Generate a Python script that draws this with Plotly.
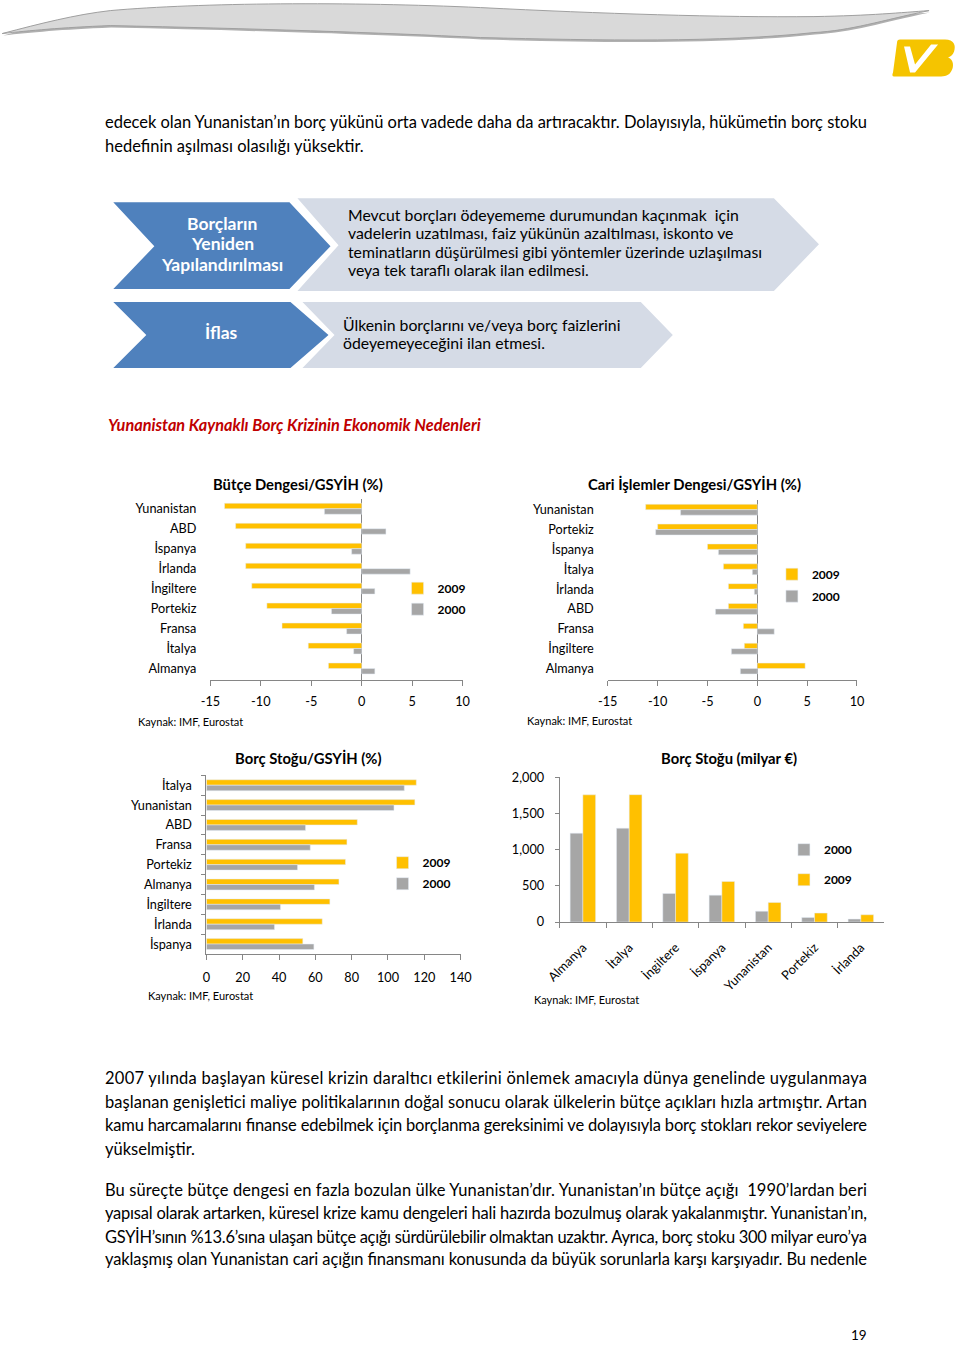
import json
import plotly.graph_objects as go

# ---------------- data ----------------
budget_countries = ["Yunanistan", "ABD", "İspanya", "İrlanda", "İngiltere", "Portekiz", "Fransa", "İtalya", "Almanya"]
budget_2009 = [-13.6, -12.5, -11.5, -11.5, -10.9, -9.4, -7.9, -5.3, -3.3]
budget_2000 = [-3.7, 2.4, -1.0, 4.8, 1.3, -3.0, -1.5, -0.8, 1.3]

ca_countries = ["Yunanistan", "Portekiz", "İspanya", "İtalya", "İrlanda", "ABD", "Fransa", "İngiltere", "Almanya"]
ca_2009 = [-11.2, -10.0, -5.0, -3.4, -2.9, -2.9, -1.4, -1.3, 4.8]
ca_2000 = [-7.7, -10.2, -3.9, -0.5, -0.3, -4.2, 1.7, -2.6, -1.7]

debt_countries = ["İtalya", "Yunanistan", "ABD", "Fransa", "Portekiz", "Almanya", "İngiltere", "İrlanda", "İspanya"]
debt_2009 = [115.6, 114.8, 83.1, 77.4, 76.6, 73.0, 68.0, 63.8, 53.1]
debt_2000 = [109.0, 103.3, 54.6, 57.2, 50.2, 59.5, 40.8, 37.5, 59.2]

stock_countries = ["Almanya", "İtalya", "İngiltere", "İspanya", "Yunanistan", "Portekiz", "İrlanda"]
stock_2000 = [1228, 1297, 395, 372, 150, 64, 41]
stock_2009 = [1758, 1760, 952, 561, 271, 124, 101]

series_names = ["2009", "2000"]
balance_ticks = [-15, -10, -5, 0, 5, 10]
balance_ticklabels = ["-15", "-10", "-5", "0", "5", "10"]

# ---------------- helpers ----------------
W, H = 960, 1347
FONT = "Lato"
YEL = "#FFC000"
GRY = "#A6A6A6"
AX = "#868686"

# positions below are given in page pixels of the target picture
SX, OX = 0.972, 14.8
SY, OY = 0.9898, 7.4


def px(x):
    return ((x - OX) / SX) / W


def py(y):
    return 1 - ((y - OY) / SY) / H


fig = go.Figure()

fig.add_trace(go.Bar(y=budget_countries, x=budget_2009, orientation="h", name=series_names[0],
                     legendgroup="a", marker_color=YEL, xaxis="x", yaxis="y", legend="legend"))
fig.add_trace(go.Bar(y=budget_countries, x=budget_2000, orientation="h", name=series_names[1],
                     legendgroup="b", marker_color=GRY, xaxis="x", yaxis="y", legend="legend"))
fig.add_trace(go.Bar(y=ca_countries, x=ca_2009, orientation="h", name=series_names[0],
                     legendgroup="a", marker_color=YEL, xaxis="x2", yaxis="y2", legend="legend2"))
fig.add_trace(go.Bar(y=ca_countries, x=ca_2000, orientation="h", name=series_names[1],
                     legendgroup="b", marker_color=GRY, xaxis="x2", yaxis="y2", legend="legend2"))
fig.add_trace(go.Bar(y=debt_countries, x=debt_2009, orientation="h", name=series_names[0],
                     legendgroup="a", marker_color=YEL, xaxis="x3", yaxis="y3", legend="legend3"))
fig.add_trace(go.Bar(y=debt_countries, x=debt_2000, orientation="h", name=series_names[1],
                     legendgroup="b", marker_color=GRY, xaxis="x3", yaxis="y3", legend="legend3"))
fig.add_trace(go.Bar(x=stock_countries, y=stock_2000, name=series_names[1], legendgroup="a",
                     marker_color=GRY, xaxis="x4", yaxis="y4", legend="legend4"))
fig.add_trace(go.Bar(x=stock_countries, y=stock_2009, name=series_names[0], legendgroup="b",
                     marker_color=YEL, xaxis="x4", yaxis="y4", legend="legend4"))

tickfont = dict(family=FONT, size=12.7, color="#000")


def hx(standoff):
    return dict(showline=True, linecolor=AX, linewidth=1, ticks="outside", ticklen=5,
                tickcolor=AX, showgrid=False, tickfont=tickfont, ticklabelstandoff=standoff)


layout = dict(
    width=W, height=H, margin=dict(l=0, r=0, t=0, b=0), autosize=False,
    paper_bgcolor="white", plot_bgcolor="rgba(0,0,0,0)",
    barmode="group", bargap=0.45, bargroupgap=0,
    font=dict(family=FONT, color="#000"),
    xaxis=dict(domain=[px(210), px(462)], range=[-15, 10], tickvals=balance_ticks,
               ticktext=balance_ticklabels,
               zeroline=True, zerolinecolor=AX, zerolinewidth=1, anchor="y", **hx(4)),
    yaxis=dict(domain=[py(680), py(498)], type="category", categoryorder="array",
               categoryarray=budget_countries, range=[8.6, -0.5], showline=False, ticks="",
               showgrid=False, tickfont=tickfont, ticklabelstandoff=13, anchor="x"),
    xaxis2=dict(domain=[px(607), px(856)], range=[-15, 10], tickvals=balance_ticks,
                ticktext=balance_ticklabels,
                zeroline=True, zerolinecolor=AX, zerolinewidth=1, anchor="y2", **hx(4)),
    yaxis2=dict(domain=[py(680), py(499)], type="category", categoryorder="array",
                categoryarray=ca_countries, range=[8.6, -0.5], showline=False, ticks="",
                showgrid=False, tickfont=tickfont, ticklabelstandoff=13, anchor="x2"),
    xaxis3=dict(domain=[px(206), px(460)], range=[0, 140], dtick=20, zeroline=False,
                anchor="y3", **hx(7)),
    yaxis3=dict(domain=[py(954), py(775)], type="category", categoryorder="array",
                categoryarray=debt_countries, range=[8.5, -0.5], showline=True, linecolor=AX,
                ticks="outside", ticklen=4, tickcolor=AX, tickson="boundaries",
                showgrid=False, tickfont=tickfont, ticklabelstandoff=11, anchor="x3"),
    xaxis4=dict(domain=[px(559), px(883)], type="category", categoryorder="array",
                categoryarray=stock_countries, showline=True, linecolor=AX, ticks="outside",
                ticklen=5, tickcolor=AX, tickson="boundaries", tickangle=-45,
                showgrid=False, tickfont=tickfont, ticklabelstandoff=12, anchor="y4"),
    yaxis4=dict(domain=[py(922), py(777)], range=[0, 2000], dtick=500, tickformat=",",
                showline=True, linecolor=AX, ticks="outside", ticklen=4, tickcolor=AX,
                showgrid=False, zeroline=False, tickfont=tickfont, ticklabelstandoff=8,
                anchor="x4"),
)

legfont = dict(family=FONT, size=12, color="#000", weight="bold")
for key, (lx, ly), gap in [("legend", (397, 573), 2), ("legend2", (771, 559), 3),
                           ("legend3", (382, 848), 2), ("legend4", (783, 835), 11)]:
    layout[key] = dict(x=px(lx), y=py(ly), xanchor="left", yanchor="top", bgcolor="rgba(0,0,0,0)",
                       font=legfont, traceorder="grouped", tracegroupgap=gap, itemwidth=30)

fig.update_layout(**layout)

ann = []
justified = []


def text(x, y, s, size=16.5, color="#000", anchor="left", bold=False, italic=False, justify=False):
    style = "italic" if italic else "normal"
    if justify:
        justified.append(len(ann))
    ann.append(dict(x=px(x), y=py(y), xref="paper", yref="paper", text=s, showarrow=False,
                    xanchor=anchor, yanchor="middle",
                    font=dict(family=FONT, size=size, color=color,
                              weight="bold" if bold else "normal", style=style)))


text(102.5, 121, "edecek olan Yunanistan’ın borç yükünü orta vadede daha da artıracaktır. Dolayısıyla, hükümetin borç stoku",
     justify=True)
text(102.5, 145, "hedefinin aşılması olasılığı yüksektir.")

for i, s in enumerate(["Borçların", "Yeniden", "Yapılandırılması"]):
    text(222, 222 + i * 20.5, s, size=17.5, color="white", anchor="center", bold=True)
text(221, 331.5, "İflas", size=17.5, color="white", anchor="center", bold=True)
for i, s in enumerate(["Mevcut borçları ödeyememe durumundan kaçınmak  için",
                       "vadelerin uzatılması, faiz yükünün azaltılması, iskonto ve",
                       "teminatların düşürülmesi gibi yöntemler üzerinde uzlaşılması",
                       "veya tek taraflı olarak ilan edilmesi."]):
    text(345, 213 + i * 18.5, s, size=15.8)
text(340, 323.5, "Ülkenin borçlarını ve/veya borç faizlerini", size=15.8)
text(340, 341.5, "ödeyemeyeceğini ilan etmesi.", size=15.8)

text(105.5, 423.5, "Yunanistan Kaynaklı Borç Krizinin Ekonomik Nedenleri", size=16.3, color="#C00000",
     bold=True, italic=True)

text(298, 483, "Bütçe Dengesi/GSYİH (%)", size=14.8, anchor="center", bold=True)
text(694, 483, "Cari İşlemler Dengesi/GSYİH (%)", size=14.8, anchor="center", bold=True)
text(308, 758, "Borç Stoğu/GSYİH (%)", size=14.8, anchor="center", bold=True)
text(728, 758, "Borç Stoğu (milyar €)", size=14.8, anchor="center", bold=True)

for (sx, sy) in [(135.5, 721), (524.5, 720), (145.5, 996), (531.5, 1000)]:
    text(sx, sy, "Kaynak: IMF, Eurostat", size=11)

para = [
    (1078, "2007 yılında başlayan küresel krizin daraltıcı etkilerini önlemek amacıyla dünya genelinde uygulanmaya", True),
    (1102, "başlanan genişletici maliye politikalarının doğal sonucu olarak ülkelerin bütçe açıkları hızla artmıştır. Artan", True),
    (1125, "kamu harcamalarını finanse edebilmek için borçlanma gereksinimi ve dolayısıyla borç stokları rekor seviyelere", True),
    (1149, "yükselmiştir.", False),
    (1190, "Bu süreçte bütçe dengesi en fazla bozulan ülke Yunanistan’dır. Yunanistan’ın bütçe açığı  1990’lardan beri", True),
    (1213, "yapısal olarak artarken, küresel krize kamu dengeleri hali hazırda bozulmuş olarak yakalanmıştır. Yunanistan’ın,", True),
    (1237, "GSYİH’sının %13.6’sına ulaşan bütçe açığı sürdürülebilir olmaktan uzaktır. Ayrıca, borç stoku 300 milyar euro’ya", True),
    (1260, "yaklaşmış olan Yunanistan cari açığın finansmanı konusunda da büyük sorunlarla karşı karşıyadır. Bu nedenle", True),
]
for y, s, j in para:
    text(102.5, y, s, justify=j)

text(858, 1336, "19", size=13.5, anchor="center")

fig.update_layout(annotations=ann)

shapes = []


def path(d, fill, line="rgba(0,0,0,0)", lw=0, layer="below"):
    shapes.append(dict(type="path", xref="paper", yref="paper", path=d, fillcolor=fill,
                       line=dict(color=line, width=lw), layer=layer))


def poly(points, fill, line="rgba(0,0,0,0)", lw=0):
    d = "M " + " L ".join(f"{px(x):.5f},{py(y):.5f}" for x, y in points) + " Z"
    path(d, fill, line, lw)


def curve(cmds, fill, line, lw):
    out = []
    for op, pts in cmds:
        out.append(op + " " + " ".join(f"{px(x):.5f},{py(y):.5f}" for x, y in pts))
    path(" ".join(out) + " Z", fill, line, lw)


ribbon = [("M", [(2, 32)]), ("C", [(40, 22), (75, 13), (110, 9)]), ("C", [(200, 1), (350, 0), (480, 6)]),
          ("C", [(600, 12), (720, 16), (813, 15)]), ("C", [(870, 14), (900, 11), (928, 9)]),
          ("C", [(880, 19), (850, 29), (813, 31)]), ("C", [(720, 41), (600, 39), (480, 36)]),
          ("C", [(380, 31), (250, 27), (110, 24)]), ("C", [(60, 26), (30, 29), (2, 32)])]
curve([(op, [(x + 1, y + 2) for x, y in pts]) for op, pts in ribbon], "#B0B0B0", "rgba(0,0,0,0)", 0)
curve(ribbon, "#D9D9D9", "#A0A0A0", 1)

curve([("M", [(899, 38)]), ("L", [(944, 38)]), ("C", [(953, 38), (955, 44), (953, 50)]),
       ("C", [(952, 53), (950, 55), (947, 56)]), ("C", [(953, 58), (953, 66), (950, 70)]),
       ("C", [(948, 74), (944, 75), (938, 75)]), ("L", [(893, 75)]), ("C", [(891, 75), (891, 73), (892, 71)]),
       ("L", [(896, 41)]), ("C", [(896, 39), (897, 38), (899, 38)])], "#F5C400", "rgba(0,0,0,0)", 0)
poly([(903, 45), (909, 45), (914, 63), (930, 43), (937, 43), (914, 71), (909, 71)], "white")

BLUE = "#4F81BD"
LIGHT = "#D5DBE6"
poly([(297, 197), (773, 197), (818, 243), (773, 290), (297, 290), (338, 244)], LIGHT)
poly([(113, 201), (289, 201), (330, 245), (289, 288), (113, 288), (154, 245)], BLUE)
poly([(302, 301), (640, 301), (672, 334), (640, 367), (302, 367), (334, 334)], LIGHT)
poly([(113, 301), (290, 301), (328, 334), (290, 367), (113, 367), (146, 334)], BLUE)

fig.update_layout(shapes=shapes)

# justified body lines: stretch to the text block width (104 -> 866 on the page)
target_len = 866 - 104
js = (
    "var s=document.createElement('style');"
    "s.textContent='html,body{margin:0!important;padding:0!important;overflow:hidden!important;}';"
    "document.head.appendChild(s);"
    "var gd=document.getElementById('{plot_id}');"
    "var idx=" + json.dumps(justified) + ";"
    "idx.forEach(function(i){"
    " var t=gd.querySelector('g.annotation[data-index=\"'+i+'\"] text.annotation-text');"
    " if(!t){return;}"
    " var b=t.getBBox();"
    " t.setAttribute('text-anchor','start');"
    " t.setAttribute('x', b.x);"
    " t.setAttribute('textLength', '" + f"{target_len:.1f}" + "');"
    " t.setAttribute('lengthAdjust','spacing');"
    "});"
)
fig.write_html("out.html", config={"displayModeBar": False, "responsive": False}, post_script=js)
